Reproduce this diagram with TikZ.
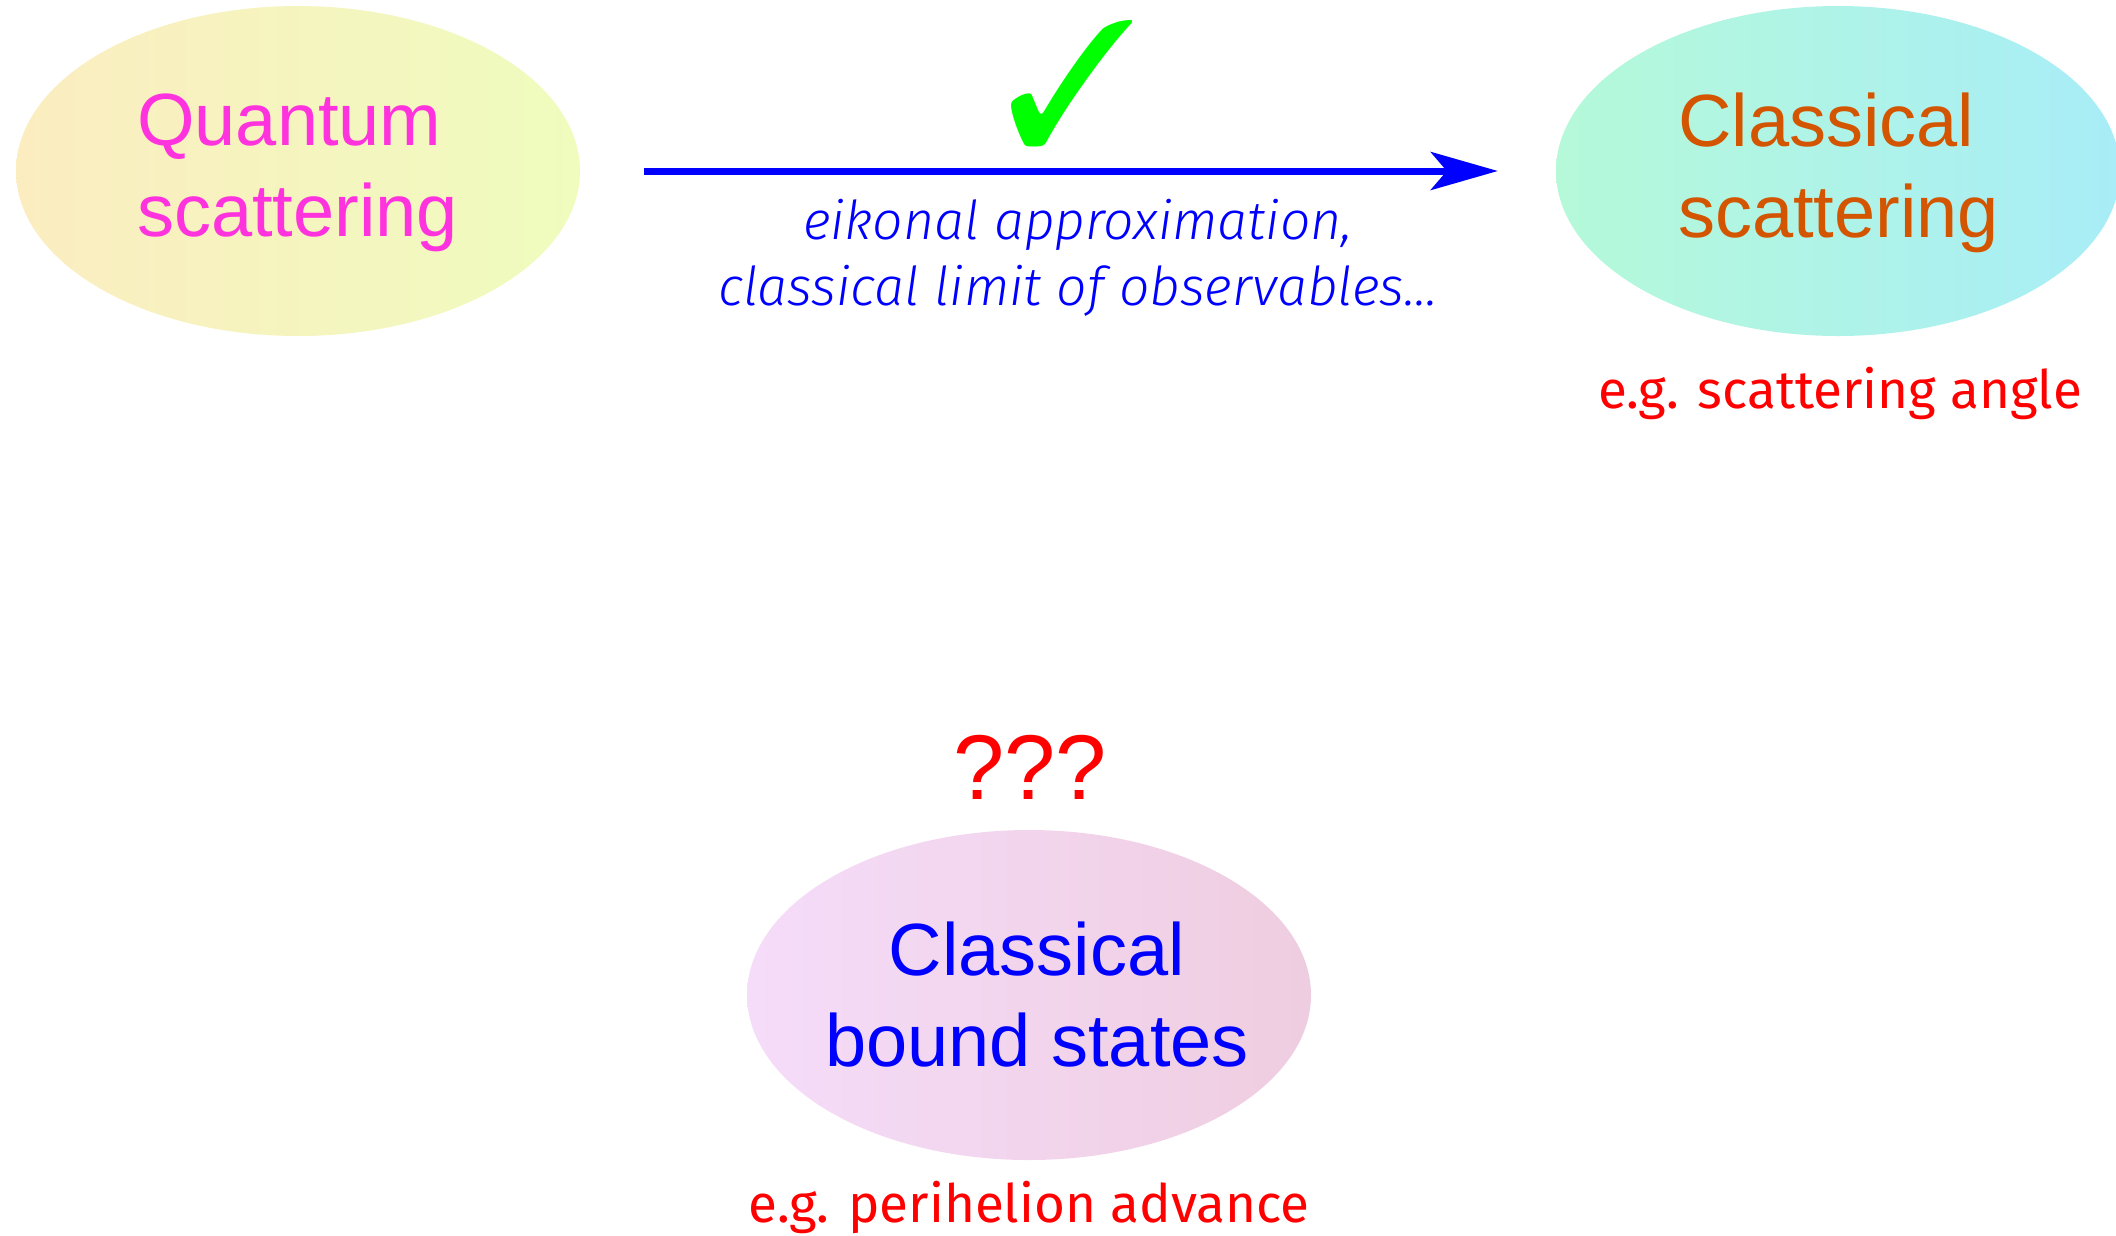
\documentclass[tikz,border=0pt]{standalone}
\usepackage{fontspec}
\usepackage{pifont}
\setmainfont{Liberation Sans}
\IfFontExistsTF{Fira Sans Light}
  {\newfontfamily\fira{Fira Sans}[ItalicFont={Fira Sans Light Italic}]}
  {\newfontfamily\fira{Fira Sans}}
\usetikzlibrary{shapes.geometric,arrows.meta}
\definecolor{qtext}{HTML}{FF33DD}
\definecolor{ctext}{HTML}{D45500}
\definecolor{btext}{HTML}{0000FF}
\definecolor{qleft}{HTML}{FBEDC0}
\definecolor{qright}{HTML}{EFFCBE}
\definecolor{cleft}{HTML}{B5F9D9}
\definecolor{cright}{HTML}{A8EDF7}
\definecolor{bleft}{HTML}{F5DCF9}
\definecolor{bright}{HTML}{EFCDE0}
\definecolor{arrowblue}{HTML}{0000FF}
\definecolor{checkgreen}{HTML}{00FF00}
\definecolor{labred}{HTML}{FF0000}
\tikzset{
  blob/.style={ellipse, draw=none, inner sep=0pt, minimum width=564pt, minimum height=330pt},
  blobtext/.style={inner sep=0pt, font=\fontsize{74}{91}\selectfont},
  flow/.style={draw=arrowblue, line width=7pt, -{Stealth[length=67pt, width=38pt, inset=16pt]}},
  note/.style={text=labred, font=\fira\fontsize{53}{64}\selectfont},
  method/.style={text=arrowblue, align=center, font=\fira\itshape\fontsize{53.5}{66}\selectfont}
}
\begin{document}
\begin{tikzpicture}[x=1pt,y=-1pt]
\useasboundingbox (0,0) rectangle (2116,1235);
\node[blob, left color=qleft, right color=qright] (q) at (298,171) {};
\node[blob, left color=cleft, right color=cright] (c) at (1838,171) {};
\node[blob, left color=bleft, right color=bright] (b) at (1029,995) {};
\node[blobtext, align=left, anchor=west, text=qtext] (qt) at ([xshift=-161pt,yshift=-2pt]q.center) {Quantum\\scattering};
\node[blobtext, align=left, anchor=west, text=ctext] (ct) at ([xshift=-160pt,yshift=-2pt]c.center) {Classical\\scattering};
\node[blobtext, align=center, text=btext] (bt) at ([xshift=8pt,yshift=0pt]b.center) {Classical\\bound states};
\draw[flow, shorten <=64pt, shorten >=58pt] (q.east) -- (c.west);
\node[text=checkgreen, inner sep=0pt, font=\fontsize{176}{176}\selectfont] (chk) at (1072,83) {\ding{51}};
\node[method] (m) at (1078,258) {eikonal approximation,\\classical limit of observables...};
\node[note] (nc) at (1840,393) {e.g. scattering angle};
\node[note] (nb) at (1029,1207) {e.g. perihelion advance};
\node[text=labred, font=\fontsize{92}{92}\selectfont] (qq) at (1030,767) {???};
\end{tikzpicture}
\end{document}
